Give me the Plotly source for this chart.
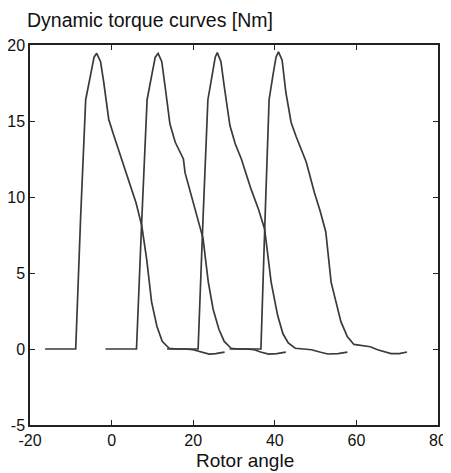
import plotly.graph_objects as go

# Rotor angle / torque samples
curve1_x = [-16.3, -8.8, -7.6, -6.35, -5.1, -4.3, -3.65, -2.7, -1.9, -0.7, 0.6, 2.2, 4.1, 6.0, 7.4, 8.6, 9.8, 11.1, 12.4, 14.1, 16.0, 18.0, 20.0, 21.4, 23.9, 25.5, 27.7]
curve1_y = [0, 0, 8.6, 16.4, 18.1, 19.2, 19.45, 18.9, 17.5, 15.1, 14.0, 12.7, 11.0, 9.6, 8.1, 5.9, 3.1, 1.5, 0.5, 0.05, 0.0, 0.0, -0.05, -0.15, -0.33, -0.3, -0.2]

curve2_x = [-1.5, 6.1, 7.4, 8.7, 9.9, 10.7, 11.4, 12.3, 13.1, 14.3, 15.6, 17.6, 18.0, 19.6, 21.0, 22.4, 23.7, 24.9, 26.3, 27.6, 29.3, 31.0, 33.0, 35.0, 36.5, 38.5, 40.5, 42.7]
curve2_y = [0, 0, 8.5, 16.4, 18.1, 19.2, 19.45, 18.9, 17.3, 14.8, 13.6, 12.5, 11.6, 10.1, 8.7, 7.3, 4.4, 2.6, 1.3, 0.5, 0.05, 0.0, 0.0, -0.05, -0.2, -0.33, -0.3, -0.2]

curve3_x = [13.6, 21.2, 22.4, 23.6, 24.7, 25.4, 25.9, 26.8, 27.6, 29.0, 30.3, 31.8, 34.2, 36.0, 37.5, 39.1, 40.7, 42.0, 43.3, 45.0, 47.0, 49.0, 51.0, 53.0, 55.5, 57.8]
curve3_y = [0, 0, 8.5, 16.4, 18.1, 19.2, 19.5, 18.9, 17.3, 14.7, 13.5, 12.5, 10.5, 9.2, 7.9, 4.4, 2.2, 1.0, 0.4, 0.05, 0.0, -0.05, -0.2, -0.33, -0.3, -0.2]

curve4_x = [28.9, 36.6, 37.6, 38.6, 39.6, 40.3, 40.9, 41.8, 42.7, 44.0, 45.2, 47.7, 49.7, 51.2, 52.5, 53.8, 56.2, 57.8, 59.4, 61.5, 63.4, 65.2, 66.7, 68.5, 70.5, 72.4]
curve4_y = [0, 0, 8.5, 16.4, 18.1, 19.2, 19.55, 19.0, 16.9, 14.9, 14.0, 12.3, 10.3, 9.0, 7.7, 4.4, 1.8, 0.8, 0.3, 0.2, 0.15, -0.05, -0.15, -0.3, -0.3, -0.2]

x_ticks = [-20, 0, 20, 40, 60, 80]
y_ticks = [-5, 0, 5, 10, 15, 20]

title_text = "Dynamic torque curves [Nm]"
x_title = "Rotor angle"

FONT = "Liberation Sans, Arial, sans-serif"

# page body has an 8px default margin, so the figure is sized to fit the window
W, H = 443, 465

fig = go.Figure()
for xs, ys in [(curve1_x, curve1_y), (curve2_x, curve2_y), (curve3_x, curve3_y), (curve4_x, curve4_y)]:
    fig.add_trace(go.Scatter(x=xs, y=ys, mode="lines",
                             line=dict(color="#3a3a3a", width=1.7), showlegend=False))

axis_common = dict(showline=True, linecolor="#222", linewidth=1.5, mirror="ticks",
                   ticks="inside", ticklen=5, tickcolor="#222", showgrid=False,
                   zeroline=False, automargin=False,
                   tickfont=dict(family=FONT, size=16, color="#111"))

fig.update_xaxes(range=[-20, 80], tickvals=x_ticks, ticktext=[str(v) for v in x_ticks],
                 **axis_common)
fig.update_yaxes(range=[-5, 20], tickvals=y_ticks, ticktext=[str(v) for v in y_ticks],
                 **axis_common)

fig.add_annotation(text=x_title, xref="paper", yref="paper", x=0.527, y=0,
                   xanchor="center", yanchor="middle", yshift=-35, showarrow=False,
                   font=dict(family=FONT, size=19, color="#111"))

fig.update_layout(
    width=W, height=H,
    margin=dict(l=22, r=13, t=37, b=48),
    paper_bgcolor="white", plot_bgcolor="white",
    title=dict(text=title_text, x=19 / W, xanchor="left", y=1 - 12 / H, yanchor="middle",
               font=dict(family=FONT, size=19.5, color="#111")),
)

fig.write_html("out.html")
